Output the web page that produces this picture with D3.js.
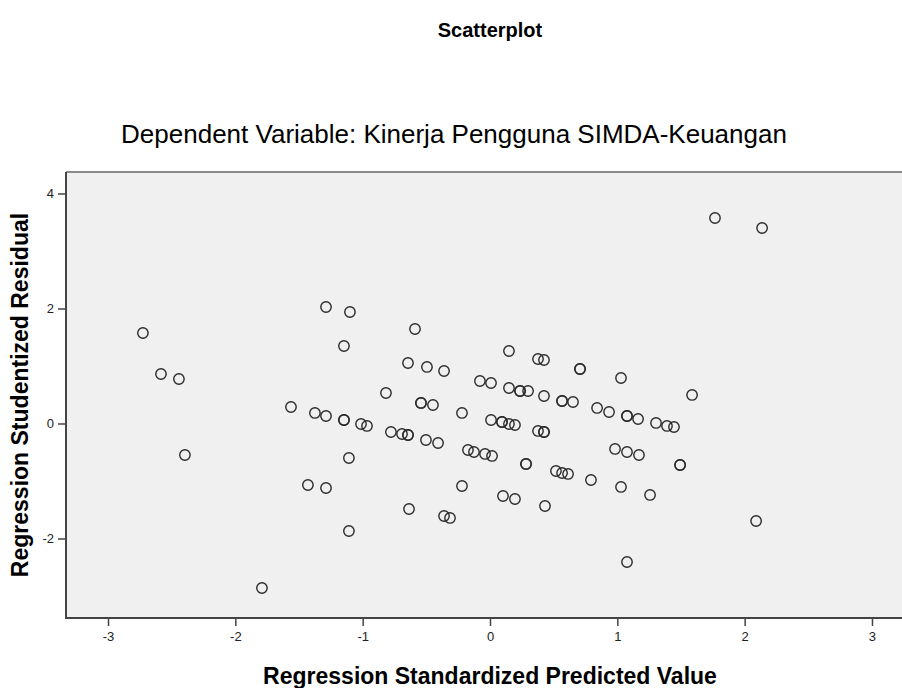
<!DOCTYPE html>
<html>
<head>
<meta charset="utf-8">
<script src="https://cdnjs.cloudflare.com/ajax/libs/d3/7.8.5/d3.min.js"></script>
<style>
  body { margin: 0; background: #fff; }
  svg { display: block; font-family: 'Liberation Sans', Arial, sans-serif; }
</style>
</head>
<body>
<div class="chart"></div>
<script>
const chartTitle = 'Scatterplot'
const subTitle = 'Dependent Variable: Kinerja Pengguna SIMDA-Keuangan'
const xLabel = 'Regression Standardized Predicted Value'
const yLabel = 'Regression Studentized Residual'

const xTicks = [ -3, -2, -1, 0, 1, 2, 3 ]
const yTicks = [ -2, 0, 2, 4 ]

// standardized predicted values
const predicted = [
  -2.726, -2.584, -2.443, -2.396, -1.791, -1.563, -1.375, -1.288, -1.147, -1.147,
  -1.013, -0.966, -0.778, -0.691, -0.644, -0.644, -0.503, -0.408, -1.288, -1.100,
  -1.147, -0.589, -0.644, -0.495, -0.361, -0.817, -0.542, -0.542, -0.448, -0.220,
  -0.079, 0.008, 0.149, 0.149, 0.236, 0.236, 0.299, 0.377, 0.424, 0.707,
  0.707, 0.424, 0.566, 0.566, 0.652, 0.841, 0.935, 1.076, 1.076, 1.163,
  1.304, 1.390, 1.445, 1.029, 1.587, 1.767, 2.137, 0.008, 0.094, 0.094,
  0.149, 0.196, 0.377, 0.424, 0.424, -0.173, -0.126, -0.039, 0.016, 0.283,
  0.283, 0.518, 0.566, 0.613, 0.793, 0.982, 1.076, 1.170, 1.493, 1.493,
  1.029, 1.257, 1.076, 2.090, -1.108, -1.430, -1.288, -0.636, -1.108, -0.361,
  -0.314, -0.220, 0.102, 0.196, 0.432
]

// studentized residuals
const residual = [
  1.574, 0.861, 0.774, -0.548, -2.861, 0.287, 0.183, 0.130, 0.061, 0.061,
  -0.009, -0.043, -0.148, -0.183, -0.200, -0.200, -0.287, -0.339, 2.026, 1.939,
  1.348, 1.643, 1.052, 0.983, 0.913, 0.530, 0.357, 0.357, 0.322, 0.183,
  0.739, 0.704, 1.261, 0.617, 0.565, 0.565, 0.565, 1.122, 1.104, 0.948,
  0.948, 0.478, 0.391, 0.391, 0.374, 0.270, 0.200, 0.130, 0.130, 0.078,
  0.009, -0.043, -0.061, 0.791, 0.496, 3.574, 3.400, 0.061, 0.026, 0.026,
  -0.009, -0.026, -0.130, -0.148, -0.148, -0.461, -0.496, -0.530, -0.565, -0.704,
  -0.704, -0.826, -0.861, -0.878, -0.983, -0.443, -0.496, -0.548, -0.722, -0.722,
  -1.104, -1.243, -2.409, -1.696, -0.600, -1.070, -1.122, -1.487, -1.870, -1.609,
  -1.643, -1.087, -1.261, -1.313, -1.435
]

const width = 902
const height = 688
const plotLeft = 66, plotRight = 914, plotTop = 172, plotBottom = 618

const dataset = predicted.map((p, i) => [ p, residual[i] ])

const xScale = d3.scaleLinear()
  .domain([ -3.33, 3.33 ])
  .range([ plotLeft, plotRight ])

const yScale = d3.scaleLinear()
  .domain([ -3.383, 4.374 ])
  .range([ plotBottom, plotTop ])

const svg = d3.select('.chart')
  .append('svg')
  .attr('width', width)
  .attr('height', height)

svg.append('rect')
  .attr('x', plotLeft)
  .attr('y', plotTop)
  .attr('width', plotRight - plotLeft)
  .attr('height', plotBottom - plotTop)
  .attr('fill', '#f0f0f0')

svg.append('line')
  .attr('x1', plotLeft).attr('x2', plotRight)
  .attr('y1', plotTop).attr('y2', plotTop)
  .attr('stroke', '#8a8a8a')
  .attr('stroke-width', 2)

const tickFormatter = d => String(d)
const xAxis = d3.axisBottom(xScale).tickValues(xTicks).tickFormat(tickFormatter)
  .tickSize(8).tickPadding(6).tickSizeOuter(0)
const yAxis = d3.axisLeft(yScale).tickValues(yTicks).tickFormat(tickFormatter)
  .tickSize(8).tickPadding(4).tickSizeOuter(0)

const gx = svg.append('g')
  .attr('transform', 'translate(0,' + plotBottom + ')')
  .call(xAxis)

const gy = svg.append('g')
  .attr('transform', 'translate(' + plotLeft + ',0)')
  .call(yAxis)

gx.select('.domain').attr('d', 'M' + (plotLeft - 1) + ',0H' + plotRight)
gy.select('.domain').attr('d', 'M0,' + plotTop + 'V' + (plotBottom + 1))

svg.selectAll('.domain')
  .attr('stroke', '#444')
  .attr('stroke-width', 2)

svg.selectAll('.tick line')
  .attr('stroke', '#444')
  .attr('stroke-width', 1.5)

svg.selectAll('.tick text')
  .attr('fill', '#222')
  .style('font-size', '13px')
  .style('font-family', "'Liberation Sans', Arial, sans-serif")

svg.selectAll('circle.pt')
  .data(dataset)
  .enter()
  .append('circle')
  .attr('class', 'pt')
  .attr('cx', d => xScale(d[0]))
  .attr('cy', d => yScale(d[1]))
  .attr('r', 5.2)
  .attr('fill', 'none')
  .attr('stroke', '#2a2a2a')
  .attr('stroke-width', 1.4)

svg.append('text')
  .attr('x', 490)
  .attr('y', 37)
  .attr('text-anchor', 'middle')
  .style('font-size', '20px')
  .style('font-weight', 'bold')
  .text(chartTitle)

svg.append('text')
  .attr('x', 454)
  .attr('y', 143)
  .attr('text-anchor', 'middle')
  .style('font-size', '26px')
  .text(subTitle)

svg.append('text')
  .attr('x', 490)
  .attr('y', 684)
  .attr('text-anchor', 'middle')
  .style('font-size', '23px')
  .style('font-weight', 'bold')
  .text(xLabel)

svg.append('text')
  .attr('transform', 'translate(28,' + 395 + ') rotate(-90)')
  .attr('text-anchor', 'middle')
  .style('font-size', '23px')
  .style('font-weight', 'bold')
  .text(yLabel)
</script>
</body>
</html>
